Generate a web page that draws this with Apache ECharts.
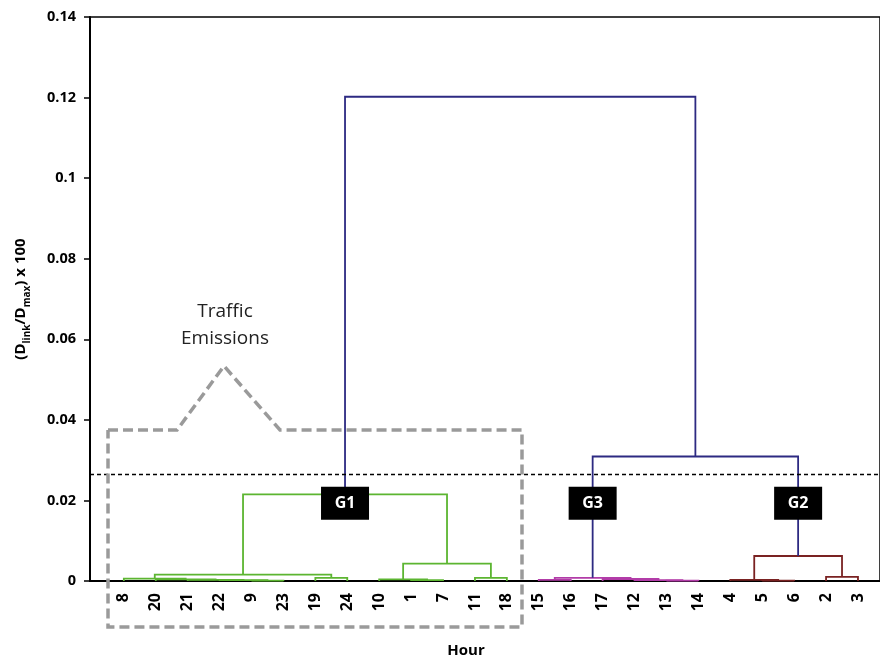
<!DOCTYPE html>
<html>
<head>
<meta charset="utf-8">
<script src="https://cdn.jsdelivr.net/npm/echarts@6/dist/echarts.min.js"></script>
<style>
  html, body { margin: 0; padding: 0; background: #fff; }
  #chart { width: 880px; height: 663px; }
</style>
</head>
<body>
<div id="chart"></div>
<script>
// Leaf order along the x axis (hour of day)
const hours = [8, 20, 21, 22, 9, 23, 19, 24, 10, 1, 7, 11, 18, 15, 16, 17, 12, 13, 14, 4, 5, 6, 2, 3];

// Linkage steps: [left node, right node, link height, colour key]
// Nodes 0..23 are leaves; each step creates node 24, 25, ...
const merges = [
  [4, 5, 0.0001, 'g'],    // 24: 9 + 23
  [3, 24, 0.0002, 'g'],   // 25
  [2, 25, 0.0003, 'g'],   // 26
  [1, 26, 0.0004, 'g'],   // 27
  [0, 27, 0.0006, 'g'],   // 28
  [6, 7, 0.0008, 'g'],    // 29: 19 + 24
  [28, 29, 0.0016, 'g'],  // 30
  [9, 10, 0.0002, 'g'],   // 31: 1 + 7
  [8, 31, 0.0004, 'g'],   // 32
  [11, 12, 0.0008, 'g'],  // 33: 11 + 18
  [32, 33, 0.0043, 'g'],  // 34
  [30, 34, 0.0215, 'g'],  // 35: G1
  [13, 14, 0.0003, 'm'],  // 36: 15 + 16
  [17, 18, 0.0001, 'm'],  // 37: 13 + 14
  [16, 37, 0.0002, 'm'],  // 38
  [15, 38, 0.0005, 'm'],  // 39
  [36, 39, 0.0008, 'm'],  // 40: G3
  [20, 21, 0.0001, 'b'],  // 41: 5 + 6
  [19, 41, 0.0003, 'b'],  // 42
  [22, 23, 0.0010, 'b'],  // 43: 2 + 3
  [42, 43, 0.0062, 'b'],  // 44: G2
  [40, 44, 0.0309, 'n'],  // 45
  [35, 45, 0.1202, 'n']   // 46: root
];

// Cluster tags and the node each one sits on
const groupNames = ['G1', 'G3', 'G2'];
const groupNodes = [35, 40, 44];
const groupTagLevel = 0.0193;

// Cut level of the tree
const cutLevel = 0.0264;

const palette = { g: '#5cb531', m: '#b23ca8', b: '#7a2222', n: '#2d2a82' };

// Node positions: leaves at their index, links centred over their children
const nodeX = hours.map((_, i) => i);
const nodeH = hours.map(() => 0);
merges.forEach(([a, b, h]) => {
  nodeX.push((nodeX[a] + nodeX[b]) / 2);
  nodeH.push(h);
});

const links = merges.map(([a, b, h, c]) => ({
  coords: [[nodeX[a], nodeH[a]], [nodeX[a], h], [nodeX[b], h], [nodeX[b], nodeH[b]]],
  lineStyle: { color: palette[c] }
}));

const tags = groupNames.map((name, i) => ({ name, value: [nodeX[groupNodes[i]], groupTagLevel] }));

const FONT = 'Open Sans';
const chart = echarts.init(document.getElementById('chart'), null, { renderer: 'canvas' });

chart.setOption({
  animation: false,
  backgroundColor: '#fff',
  grid: {
    left: 90, right: -2, top: 17, bottom: 79,
    show: true, borderColor: '#000', borderWidth: 1.5
  },
  xAxis: {
    type: 'value',
    min: -1.06,
    max: 23.69,
    name: 'Hour',
    nameLocation: 'middle',
    nameGap: 62,
    nameTextStyle: { fontFamily: FONT, fontWeight: 'bold', fontSize: 15, color: '#000', padding: [0, 38, 0, 0] },
    axisLine: { show: true, onZero: false, lineStyle: { color: '#000', width: 2 } },
    axisTick: { show: false },
    splitLine: { show: false },
    axisLabel: {
      customValues: hours.map((_, i) => i),
      formatter: (v) => String(hours[Math.round(v)]),
      rotate: 90,
      margin: 12,
      fontFamily: FONT,
      fontWeight: 'bold',
      fontSize: 16,
      color: '#000'
    }
  },
  yAxis: {
    type: 'value',
    min: 0,
    max: 0.14,
    interval: 0.02,
    name: '{n|(D}{s|link}{n|/D}{s|max}{n|) x 100}',
    nameLocation: 'middle',
    nameGap: 58,
    nameTextStyle: {
      color: '#000',
      rich: {
        n: { fontFamily: FONT, fontWeight: 'bold', fontSize: 15, lineHeight: 22, verticalAlign: 'middle', color: '#000' },
        s: { fontFamily: FONT, fontWeight: 'bold', fontSize: 10, lineHeight: 22, verticalAlign: 'bottom', color: '#000' }
      }
    },
    axisLine: { show: true, onZero: false, lineStyle: { color: '#000', width: 2 } },
    axisTick: { show: true, length: 6, lineStyle: { color: '#000', width: 1.5 } },
    splitLine: { show: false },
    axisLabel: { fontFamily: FONT, fontWeight: 'bold', fontSize: 14.5, color: '#000', margin: 14 }
  },
  series: [
    {
      type: 'lines',
      coordinateSystem: 'cartesian2d',
      polyline: true,
      silent: true,
      z: 3,
      lineStyle: { width: 1.8, opacity: 1 },
      data: links
    },
    {
      type: 'scatter',
      z: 5,
      symbol: 'rect',
      symbolSize: [48, 33],
      itemStyle: { color: '#000', opacity: 1 },
      label: {
        show: true,
        position: 'inside',
        formatter: '{b}',
        color: '#fff',
        fontFamily: FONT,
        fontWeight: 'bold',
        fontSize: 16
      },
      data: tags,
      markLine: {
        silent: true,
        precision: 4,
        symbol: ['none', 'none'],
        label: { show: false },
        lineStyle: { color: '#000', type: [4, 3], width: 1.3 },
        data: [{ yAxis: cutLevel }]
      }
    }
  ],
  graphic: [
    {
      type: 'polyline',
      silent: true,
      z: 10,
      shape: {
        points: [[108, 430], [177, 430], [224, 366], [280, 430], [522, 430], [522, 627], [108, 627], [108, 430]]
      },
      style: { stroke: '#9a9a9a', lineWidth: 3.5, lineDash: [10, 5], fill: null }
    },
    {
      type: 'text',
      silent: true,
      z: 10,
      style: {
        x: 225,
        y: 325,
        text: 'Traffic\nEmissions',
        align: 'center',
        verticalAlign: 'middle',
        lineHeight: 27,
        fontFamily: FONT,
        fontSize: 19,
        fill: '#222'
      }
    }
  ]
});
</script>
</body>
</html>
